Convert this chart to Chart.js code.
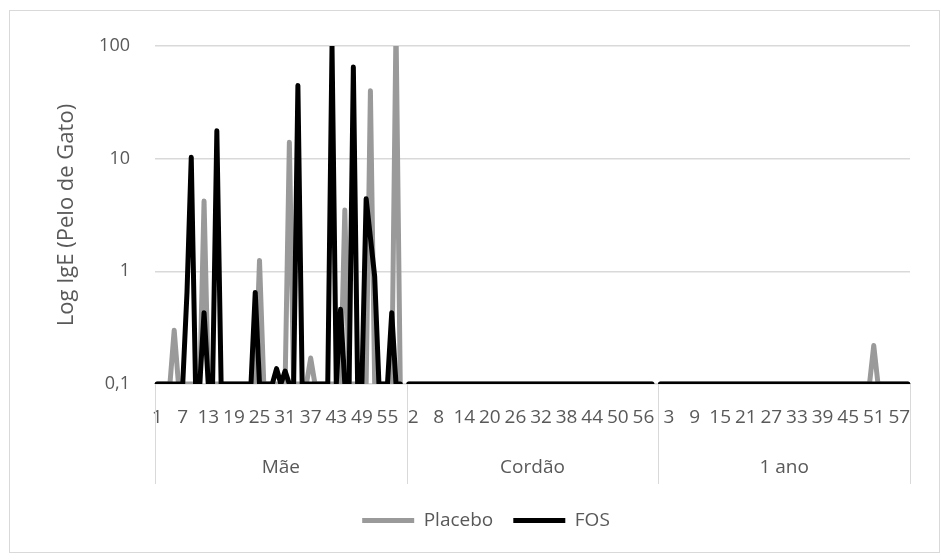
<!DOCTYPE html>
<html>
<head>
<meta charset="utf-8">
<script src="https://cdn.jsdelivr.net/npm/chart.js@4.4.1/dist/chart.umd.min.js"></script>
<style>
    html, body { margin: 0; padding: 0; background: #fff; }
    #wrap { width: 941px; height: 560px; }
</style>
</head>
<body>
<div id="wrap"><canvas id="myChart" width="941" height="560"></canvas></div>
<script>
const grupos = ['Mãe', 'Cordão', '1 ano']

const numeros = [
    '1', '2', '3', '4', '5', '6', '7', '8', '9', '10',
    '11', '12', '13', '14', '15', '16', '17', '18', '19', '20',
    '21', '22', '23', '24', '25', '26', '27', '28', '29', '30',
    '31', '32', '33', '34', '35', '36', '37', '38', '39', '40',
    '41', '42', '43', '44', '45', '46', '47', '48', '49', '50',
    '51', '52', '53', '54', '55', '56', '57', '58', '59'
]

const yTicks = [0.1, 1, 10, 100]

// Placebo
const maePlacebo = [
    0.1, 0.1, 0.1, 0.1, 0.3, 0.1, 0.1, 0.1, 0.1, 0.1,
    0.1, 4.2, 0.1, 0.1, 0.1, 0.1, 0.1, 0.1, 0.1, 0.1,
    0.1, 0.1, 0.1, 0.1, 1.25, 0.1, 0.1, 0.1, 0.1, 0.1,
    0.1, 14, 0.1, 0.1, 0.1, 0.1, 0.17, 0.1, 0.1, 0.1,
    0.1, 0.1, 0.1, 0.1, 3.5, 0.1, 0.1, 0.1, 0.1, 0.1,
    40, 0.1, 0.1, 0.1, 0.1, 0.1, 150, 0.1, null
]
const cordaoPlacebo = [
    0.1, 0.1, 0.1, 0.1, 0.1, 0.1, 0.1, 0.1, 0.1, 0.1,
    0.1, 0.1, 0.1, 0.1, 0.1, 0.1, 0.1, 0.1, 0.1, 0.1,
    0.1, 0.1, 0.1, 0.1, 0.1, 0.1, 0.1, 0.1, 0.1, 0.1,
    0.1, 0.1, 0.1, 0.1, 0.1, 0.1, 0.1, 0.1, 0.1, 0.1,
    0.1, 0.1, 0.1, 0.1, 0.1, 0.1, 0.1, 0.1, 0.1, 0.1,
    0.1, 0.1, 0.1, 0.1, 0.1, 0.1, 0.1, 0.1, null
]
const anoPlacebo = [
    0.1, 0.1, 0.1, 0.1, 0.1, 0.1, 0.1, 0.1, 0.1, 0.1,
    0.1, 0.1, 0.1, 0.1, 0.1, 0.1, 0.1, 0.1, 0.1, 0.1,
    0.1, 0.1, 0.1, 0.1, 0.1, 0.1, 0.1, 0.1, 0.1, 0.1,
    0.1, 0.1, 0.1, 0.1, 0.1, 0.1, 0.1, 0.1, 0.1, 0.1,
    0.1, 0.1, 0.1, 0.1, 0.1, 0.1, 0.1, 0.1, 0.1, 0.1,
    0.22, 0.1, 0.1, 0.1, 0.1, 0.1, 0.1, 0.1, 0.1
]

// FOS
const maeFos = [
    0.1, 0.1, 0.1, 0.1, 0.1, 0.1, 0.1, 0.65, 10.3, 0.1,
    0.1, 0.43, 0.1, 0.1, 17.7, 0.1, 0.1, 0.1, 0.1, 0.1,
    0.1, 0.1, 0.1, 0.65, 0.1, 0.1, 0.1, 0.1, 0.137, 0.1,
    0.13, 0.1, 0.1, 44.6, 0.1, 0.1, 0.1, 0.1, 0.1, 0.1,
    0.1, 100, 0.1, 0.46, 0.1, 0.1, 65, 0.1, 0.1, 4.4,
    2.0, 0.9, 0.1, 0.1, 0.1, 0.43, 0.1, 0.1, null
]
const cordaoFos = [
    0.1, 0.1, 0.1, 0.1, 0.1, 0.1, 0.1, 0.1, 0.1, 0.1,
    0.1, 0.1, 0.1, 0.1, 0.1, 0.1, 0.1, 0.1, 0.1, 0.1,
    0.1, 0.1, 0.1, 0.1, 0.1, 0.1, 0.1, 0.1, 0.1, 0.1,
    0.1, 0.1, 0.1, 0.1, 0.1, 0.1, 0.1, 0.1, 0.1, 0.1,
    0.1, 0.1, 0.1, 0.1, 0.1, 0.1, 0.1, 0.1, 0.1, 0.1,
    0.1, 0.1, 0.1, 0.1, 0.1, 0.1, 0.1, 0.1, null
]
const anoFos = [
    0.1, 0.1, 0.1, 0.1, 0.1, 0.1, 0.1, 0.1, 0.1, 0.1,
    0.1, 0.1, 0.1, 0.1, 0.1, 0.1, 0.1, 0.1, 0.1, 0.1,
    0.1, 0.1, 0.1, 0.1, 0.1, 0.1, 0.1, 0.1, 0.1, 0.1,
    0.1, 0.1, 0.1, 0.1, 0.1, 0.1, 0.1, 0.1, 0.1, 0.1,
    0.1, 0.1, 0.1, 0.1, 0.1, 0.1, 0.1, 0.1, 0.1, 0.1,
    0.1, 0.1, 0.1, 0.1, 0.1, 0.1, 0.1, 0.1, 0.1
]

const tamanhos = [maePlacebo.length, cordaoPlacebo.length, anoPlacebo.length]
const labels = [].concat(
    numeros.slice(0, tamanhos[0]),
    numeros.slice(0, tamanhos[1]),
    numeros.slice(0, tamanhos[2])
)
const placebo = [].concat(maePlacebo, cordaoPlacebo, anoPlacebo)
const fos = [].concat(maeFos, cordaoFos, anoFos)

const fonte = "'Open Sans', sans-serif"
const cinzaTexto = '#595959'
const cinzaLinha = '#d9d9d9'

// fundo, borda e os rótulos de grupo (Mãe / Cordão / 1 ano)
const gruposPlugin = {
    id: 'grupos',
    beforeDraw(chart) {
        const ctx = chart.ctx
        ctx.save()
        ctx.fillStyle = '#fff'
        ctx.fillRect(0, 0, chart.width, chart.height)
        ctx.strokeStyle = cinzaLinha
        ctx.lineWidth = 1
        ctx.strokeRect(9.5, 10.5, 930, 542)
        ctx.restore()
    },
    afterDraw(chart) {
        const ctx = chart.ctx
        const x = chart.scales.x
        const area = chart.chartArea
        const meio = (x.getPixelForValue(1) - x.getPixelForValue(0)) / 2

        ctx.save()
        ctx.strokeStyle = cinzaLinha
        ctx.lineWidth = 1
        ctx.fillStyle = cinzaTexto
        ctx.font = '19px ' + fonte
        ctx.textAlign = 'center'
        ctx.textBaseline = 'middle'

        let inicio = 0
        for (let g = 0; g <= grupos.length; g++) {
            const px = Math.round(x.getPixelForValue(inicio) - meio) + 0.5
            ctx.beginPath()
            ctx.moveTo(px, area.bottom)
            ctx.lineTo(px, area.bottom + 100)
            ctx.stroke()
            if (g < grupos.length) {
                const fim = inicio + tamanhos[g] - 1
                const cx = (x.getPixelForValue(inicio) + x.getPixelForValue(fim)) / 2
                ctx.fillText(grupos[g], cx, area.bottom + 84)
                inicio += tamanhos[g]
            }
        }
        ctx.restore()
    }
}

const cfg = {
    type: 'line',
    data: {
        labels: labels,
        datasets: [{
            label: 'Placebo',
            data: placebo,
            borderColor: '#9a9a9a',
            backgroundColor: '#9a9a9a',
            borderWidth: 5,
            borderCapStyle: 'round',
            borderJoinStyle: 'round',
            pointRadius: 0,
            tension: 0,
            spanGaps: false,
            order: 1
        }, {
            label: 'FOS',
            data: fos,
            borderColor: '#000000',
            backgroundColor: '#000000',
            borderWidth: 5,
            borderCapStyle: 'round',
            borderJoinStyle: 'round',
            pointRadius: 0,
            tension: 0,
            spanGaps: false,
            order: 0
        }]
    },
    options: {
        responsive: false,
        animation: false,
        layout: {
            padding: { left: 31, right: 0, top: 46, bottom: 20 }
        },
        scales: {
            x: {
                type: 'category',
                offset: true,
                grid: { display: false },
                border: { display: false },
                ticks: {
                    autoSkip: false,
                    maxRotation: 0,
                    minRotation: 0,
                    padding: 14,
                    color: cinzaTexto,
                    font: { family: fonte, size: 19 },
                    callback: function (val, index) {
                        return index % 6 === 0 ? this.getLabelForValue(val) : ''
                    }
                },
                afterFit: (scale) => { scale.height = 107 }
            },
            y: {
                type: 'logarithmic',
                min: 0.1,
                max: 100,
                border: { display: false },
                grid: {
                    color: cinzaLinha,
                    lineWidth: 1.5,
                    drawTicks: false
                },
                afterBuildTicks: (scale) => {
                    scale.ticks = yTicks.map(v => ({ value: v }))
                },
                ticks: {
                    padding: 25,
                    color: cinzaTexto,
                    font: { family: fonte, size: 18 },
                    callback: (v) => String(v).replace('.', ',')
                },
                title: {
                    display: true,
                    text: 'Log IgE (Pelo de Gato)',
                    color: cinzaTexto,
                    font: { family: fonte, size: 22 },
                    padding: { top: 23, bottom: 0 }
                },
                afterFit: (scale) => { scale.width = 124 }
            },
            y2: {
                type: 'linear',
                position: 'right',
                display: true,
                grid: { display: false },
                border: { display: false },
                ticks: { display: false },
                afterFit: (scale) => { scale.width = 31 }
            }
        },
        plugins: {
            legend: {
                position: 'bottom',
                labels: {
                    usePointStyle: true,
                    pointStyle: 'line',
                    pointStyleWidth: 52,
                    padding: 20,
                    color: cinzaTexto,
                    font: { family: fonte, size: 19 },
                    sort: (a, b) => a.datasetIndex - b.datasetIndex
                }
            },
            tooltip: { enabled: false }
        }
    },
    plugins: [gruposPlugin]
}

const ctx = document.getElementById('myChart').getContext('2d')

// eslint-disable-next-line no-undef
const myChart = new Chart(ctx, cfg)
</script>
</body>
</html>
